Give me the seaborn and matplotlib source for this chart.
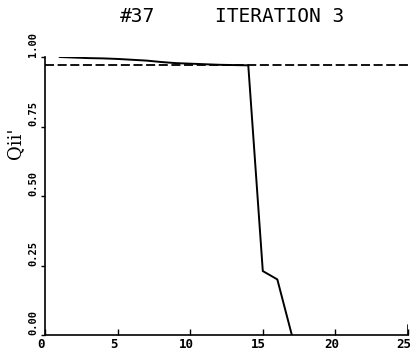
import matplotlib
matplotlib.use("Agg")
import matplotlib.pyplot as plt
import matplotlib.transforms as mtransforms
import seaborn as sns
import pandas as pd

iteration = [1, 2, 3, 4, 5, 6, 7, 8, 9, 10, 11, 12, 13, 14, 15, 16, 17]
qii = [1.0, 0.998, 0.996, 0.995, 0.993, 0.99, 0.987, 0.982, 0.978, 0.976,
       0.974, 0.972, 0.971, 0.970, 0.23, 0.20, 0.0]
ref_x = [0, 25]
ref_y = [0.97, 0.97]
xticks = [0, 5, 10, 15, 20, 25]
yticks = [0.0, 0.25, 0.5, 0.75, 1.0]
ytick_labels = ["0.00", "0.25", "0.50", "0.75", "1.00"]
title_left = "#37"
title_right = "ITERATION 3"
ylabel = "Qii'"

sns.set_style("ticks", {"text.color": "black", "xtick.color": "black",
                        "ytick.color": "black", "axes.edgecolor": "black"})
plt.rcParams["font.family"] = ["DejaVu Sans Mono", "DejaVu Sans"]

fig = plt.figure(figsize=(4.14, 3.55), dpi=100)
ax = fig.add_axes([45 / 414, 1 - 335 / 355, (408 - 45) / 414, (335 - 57) / 355])

df = pd.DataFrame({"x": iteration, "y": qii})
dref = pd.DataFrame({"x": ref_x, "y": ref_y})
sns.lineplot(data=dref, x="x", y="y", ax=ax, color="black", linewidth=1.3,
             linestyle=(0, (5, 2)))
sns.lineplot(data=df, x="x", y="y", ax=ax, color="black", linewidth=1.4)

ax.set_xlim(0, 25)
ax.set_ylim(0, 1.0)
ax.set_xticks(xticks)
ax.set_xticklabels([str(t) for t in xticks], fontsize=9, fontweight="bold")
ax.set_yticks(yticks)
ax.set_yticklabels(ytick_labels, fontsize=7.5, fontweight="bold",
                   rotation=90, va="bottom")
ax.tick_params(axis="x", direction="in", length=4, width=1, pad=2)
ax.tick_params(axis="y", direction="out", length=3, width=1, pad=2)
offset = mtransforms.ScaledTranslation(-4 / 100, 0, fig.dpi_scale_trans)
for lbl in ax.get_xticklabels():
    lbl.set_transform(lbl.get_transform() + offset)
ax.set_xlabel("")
ax.set_ylabel("")
for s in ["top", "right"]:
    ax.spines[s].set_visible(False)
for s in ["left", "bottom"]:
    ax.spines[s].set_linewidth(1.2)
ax.axvline(25, ymax=0.035, color="black", linewidth=1.2)

fig.text(138 / 414, 1 - 16 / 355, title_left, fontsize=14, ha="center",
         va="center", color="black")
fig.text(280 / 414, 1 - 16 / 355, title_right, fontsize=14, ha="center",
         va="center", color="black")
fig.text(15 / 414, 1 - 143 / 355, ylabel, fontsize=13, rotation=90,
         ha="center", va="center", family="DejaVu Serif", color="black")

fig.savefig("out.png", dpi=100)
